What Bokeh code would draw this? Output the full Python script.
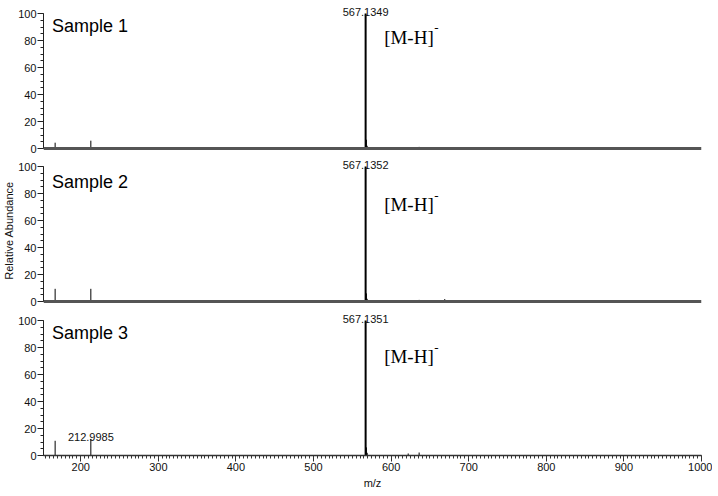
from bokeh.plotting import figure
from bokeh.models import ColumnDataSource, FixedTicker, Range1d, Span, Label
from bokeh.layouts import column
from bokeh.embed import file_html
from bokeh.resources import INLINE
from bokeh.core.properties import value

# ---------------- data ----------------
sample_names = ["Sample 1", "Sample 2", "Sample 3"]

mz_s1 = [167.0, 212.9985, 567.1349, 568.14, 569.14, 636.1, 669.1, 687.0]
int_s1 = [4.3, 5.8, 100.0, 6.5, 2.0, 1.2, 1.0, 0.6]
labeled_s1 = [567.1349]

mz_s2 = [167.0, 212.9985, 336.0, 567.1352, 568.14, 569.14, 636.1, 669.1]
int_s2 = [9.4, 9.4, 0.5, 100.0, 6.0, 2.0, 1.2, 1.8]
labeled_s2 = [567.1352]

mz_s3 = [167.0, 212.9985, 567.1351, 568.14, 569.14, 622.0, 636.1]
int_s3 = [10.9, 12.3, 100.0, 6.0, 2.0, 1.5, 2.2]
labeled_s3 = [212.9985, 567.1351]

ion_label = "[M-H]"
ion_charge = "-"
y_title = "Relative Abundance"
x_title = "m/z"

y_ticks = [0, 20, 40, 60, 80, 100]
y_minor = list(range(0, 101, 5))
x_ticks = [200, 300, 400, 500, 600, 700, 800, 900, 1000]
x_minor = list(range(155, 1001, 5))

X_START, X_END = 152, 1000
SANS = "Liberation Sans"
SERIF = "Liberation Serif"
INK = "#111111"


def make_panel(mz, inten, labeled, name, name_y, ion_y, y_rng, frame_h,
               bottom_axis, y_label=False):
    p = figure(frame_width=658, frame_height=frame_h,
               x_range=Range1d(X_START, X_END), y_range=Range1d(*y_rng),
               output_backend="svg", toolbar_location=None,
               min_border_left=42, min_border_right=12,
               min_border_top=0, min_border_bottom=0 if bottom_axis else 3)
    p.outline_line_color = None
    p.xgrid.visible = False
    p.ygrid.visible = False

    widths = [2.0 if v > 50 else 1.0 for v in inten]
    src = ColumnDataSource(dict(mz=mz, inten=inten, base=[0] * len(mz), w=widths))
    p.segment(x0="mz", y0="base", x1="mz", y1="inten", source=src,
              line_color="black", line_width="w")

    lab_int = [inten[mz.index(m)] for m in labeled]
    lsrc = ColumnDataSource(dict(mz=labeled, inten=lab_int,
                                 txt=["%.4f" % m for m in labeled]))
    p.text(x="mz", y="inten", text="txt", source=lsrc,
           text_font=value(SANS), text_font_size="11px", text_color=INK,
           text_align="center", text_baseline="alphabetic", y_offset=-2)

    p.add_layout(Label(x=163, y=name_y, text=name, text_font=SANS,
                       text_font_size="18px", text_color="black",
                       text_baseline="middle", text_align="left"))
    p.add_layout(Label(x=591, y=ion_y, text=ion_label, text_font=SERIF,
                       text_font_size="19px", text_color="black",
                       text_baseline="middle", text_align="left"))
    p.add_layout(Label(x=591, y=ion_y, x_offset=50, y_offset=9, text=ion_charge,
                       text_font=SERIF, text_font_size="13px", text_color="black",
                       text_baseline="middle", text_align="left"))

    ya = p.yaxis[0]
    ya.bounds = (0, 100)
    ya.ticker = FixedTicker(ticks=y_ticks, minor_ticks=y_minor)
    ya.major_tick_out = 6
    ya.major_tick_in = 0
    ya.minor_tick_out = 3
    ya.minor_tick_in = 0
    ya.major_label_standoff = 1
    ya.axis_line_color = "#222222"
    ya.major_tick_line_color = "#222222"
    ya.minor_tick_line_color = "#222222"
    ya.major_label_text_font = SANS
    ya.major_label_text_font_size = "11px"
    ya.major_label_text_color = INK
    if y_label:
        ya.axis_label = y_title
        ya.axis_label_text_font = SANS
        ya.axis_label_text_font_size = "11px"
        ya.axis_label_text_font_style = "normal"
        ya.axis_label_text_color = INK
        ya.axis_label_standoff = 0

    if bottom_axis:
        xa = p.xaxis[0]
        xa.ticker = FixedTicker(ticks=x_ticks, minor_ticks=x_minor)
        xa.major_tick_out = 6
        xa.major_tick_in = 0
        xa.minor_tick_out = 3
        xa.minor_tick_in = 0
        xa.major_label_standoff = 1
        xa.axis_line_width = 1.5
        xa.axis_line_color = "#333333"
        xa.major_tick_line_color = "#333333"
        xa.minor_tick_line_color = "#333333"
        xa.major_label_text_font = SANS
        xa.major_label_text_font_size = "11px"
        xa.major_label_text_color = INK
        xa.axis_label = x_title
        xa.axis_label_text_font = SANS
        xa.axis_label_text_font_size = "11px"
        xa.axis_label_text_font_style = "normal"
        xa.axis_label_text_color = INK
        xa.axis_label_standoff = 3
    else:
        p.xaxis.visible = False
        p.add_layout(Span(location=0, dimension="width", line_color="#555555",
                          line_width=3))
    return p


p1 = make_panel(mz_s1, int_s1, labeled_s1, sample_names[0], 90.5, 82.5,
                (-2.96, 109.63), 152, False)
p2 = make_panel(mz_s2, int_s2, labeled_s2, sample_names[1], 88.3, 71.5,
                (-2.96, 108.15), 150, False, y_label=True)
p3 = make_panel(mz_s3, int_s3, labeled_s3, sample_names[2], 90.5, 73.0,
                (0, 108.89), 147, True)

layout = column(p1, p2, p3, spacing=0)
open("out.html", "w").write(file_html(layout, INLINE))
